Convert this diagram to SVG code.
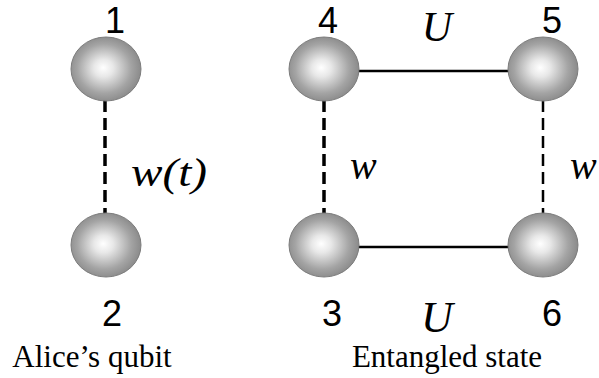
<svg xmlns="http://www.w3.org/2000/svg" width="599" height="378" viewBox="0 0 599 378">
<style>
.num{font-family:"Liberation Sans",Arial,sans-serif;font-size:36px;fill:#000;text-anchor:middle}
.it{font-family:"Liberation Serif","Times New Roman",serif;font-style:italic;fill:#000}
.cap{font-family:"Liberation Serif","Times New Roman",serif;font-size:31px;fill:#000;text-anchor:middle}
.sphere{fill:url(#g);stroke:#7d7d7d;stroke-width:1}
.solid{stroke:#000;stroke-width:2.5;fill:none}
.dash{stroke:#000;stroke-width:3.5;stroke-dasharray:12,6;fill:none}
.dashthin{stroke:#000;stroke-width:2.5;stroke-dasharray:12,6;fill:none}
</style>
<defs>
<radialGradient id="g" cx="0.48" cy="0.5" r="0.55" fx="0.46" fy="0.48">
<stop offset="0" stop-color="#ffffff"/>
<stop offset="0.25" stop-color="#e8e8e8"/>
<stop offset="0.7" stop-color="#a4a4a4"/>
<stop offset="1" stop-color="#858585"/>
</radialGradient>
</defs>
<rect width="599" height="378" fill="#fff"/>
<g id="connectors">
<line class="dash" x1="105" y1="100" x2="105" y2="214"/>
<line class="dash" x1="324" y1="100" x2="324" y2="214"/>
<line class="dashthin" x1="543" y1="100" x2="543" y2="214"/>
<line class="solid" x1="358" y1="71" x2="509" y2="71"/>
<line class="solid" x1="358" y1="247" x2="509" y2="247"/>
</g>
<g id="node1"><ellipse class="sphere" cx="106" cy="69" rx="35" ry="32"/><text class="num" x="115" y="33">1</text></g>
<g id="node2"><ellipse class="sphere" cx="106" cy="245" rx="35" ry="32"/><text class="num" x="112" y="326">2</text></g>
<g id="node4"><ellipse class="sphere" cx="324" cy="69" rx="35" ry="32"/><text class="num" x="328" y="33">4</text></g>
<g id="node5"><ellipse class="sphere" cx="543" cy="69" rx="35" ry="32"/><text class="num" x="552" y="33">5</text></g>
<g id="node3"><ellipse class="sphere" cx="324" cy="245" rx="35" ry="32"/><text class="num" x="332" y="326">3</text></g>
<g id="node6"><ellipse class="sphere" cx="543" cy="245" rx="35" ry="32"/><text class="num" x="552" y="326">6</text></g>
<g id="labels">
<text class="it" x="437" y="41" font-size="42" text-anchor="middle">U</text>
<text class="it" x="437" y="332" font-size="44" text-anchor="middle">U</text>
<text class="it" x="131" y="186" font-size="40" textLength="76" lengthAdjust="spacingAndGlyphs">w(t)</text>
<text class="it" x="350" y="179" font-size="40">w</text>
<text class="it" x="570" y="179" font-size="40">w</text>
<text class="cap" x="92" y="367">Alice’s qubit</text>
<text class="cap" x="447" y="367">Entangled state</text>
</g>
</svg>
